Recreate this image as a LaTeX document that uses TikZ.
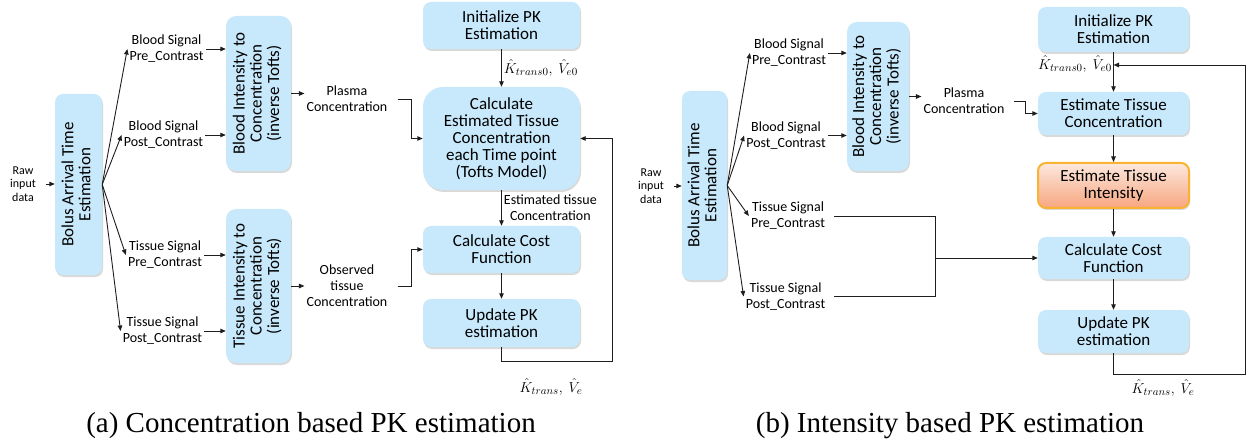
\documentclass[tikz,border=0pt]{standalone}
\usepackage{fontspec}
\setmainfont{Carlito}
\newfontfamily\capfont{Liberation Serif}
\usepackage{graphicx}
\usetikzlibrary{arrows.meta,shadows}

\definecolor{boxblue}{RGB}{200,233,251}
\definecolor{orgtop}{RGB}{253,232,222}
\definecolor{orgbot}{RGB}{247,166,128}
\definecolor{orgline}{RGB}{249,178,50}
\definecolor{lineclr}{RGB}{30,30,30}

\newcommand{\bxfont}{\fontsize{17}{17}\selectfont}
\newcommand{\lbfont}{\fontsize{14}{16}\selectfont}
\newcommand{\smfont}{\fontsize{12}{13.5}\selectfont}
\newcommand{\mtfont}{\fontsize{15.5}{17}\selectfont}
\newcommand{\vtext}[1]{\rotatebox{90}{\begin{tabular}{@{}c@{}}#1\end{tabular}}}

\tikzset{
  box/.style={fill=boxblue, rounded corners=8pt, align=center, font=\bxfont, inner sep=0pt,
    minimum width=157pt, minimum height=47pt,
    drop shadow={shadow xshift=1pt, shadow yshift=-2pt, opacity=0.25, fill=black!60}},
  hotbox/.style={box, top color=orgtop, bottom color=orgbot, draw=orgline, line width=2pt},
  lbl/.style={align=center, font=\lbfont, inner sep=2pt},
  mlbl/.style={font=\mtfont, inner sep=2pt},
  wire/.style={draw=lineclr, line width=0.9pt},
  arr/.style={wire, -{Triangle[length=5.5pt,width=4.5pt]}},
}

\begin{document}
\begin{tikzpicture}[x=1pt, y=-1pt]
        \useasboundingbox (0,0) rectangle (1249,446);

        % (a) Nodes
        \node[lbl, font=\smfont] (rawa) at (23,184) {Raw\\input\\data};
        \node[box, minimum width=47pt, minimum height=181pt] (bolusa) at (78.5,184.5) {\vtext{Bolus Arrival Time\\Estimation}};
        \node[lbl] (bprea) at (166.5,49) {Blood Signal\\Pre\_Contrast};
        \node[lbl] (bposta) at (163.5,135) {Blood Signal\\Post\_Contrast};
        \node[lbl] (tprea) at (165,255) {Tissue Signal\\Pre\_Contrast};
        \node[lbl] (tposta) at (162.5,331) {Tissue Signal\\Post\_Contrast};
        \node[box, rounded corners=10pt, minimum width=65pt, minimum height=155pt] (bloda) at (258.5,93.5) {\vtext{Blood Intensity to\\Concentration\\(inverse Tofts)}};
        \node[box, rounded corners=10pt, minimum width=65pt, minimum height=154pt] (tisa) at (258.5,286) {\vtext{Tissue Intensity to\\Concentration\\(inverse Tofts)}};
        \node[lbl] (plasa) at (347,99) {Plasma\\Concentration};
        \node[lbl] (obsa) at (347,286) {Observed\\tissue\\Concentration};
        \node[box] (inita) at (501.5,25.5) {Initialize PK\\Estimation};
        \node[box, rounded corners=20pt, minimum height=103pt] (calca) at (501.5,138.5) {Calculate\\Estimated Tissue\\Concentration\\each Time point\\(Tofts Model)};
        \node[box] (costa) at (501.5,249.5) {Calculate Cost\\Function};
        \node[box, minimum height=48pt] (upda) at (501.5,323) {Update PK\\estimation};
        \coordinate (loopa) at (612,361);
        \node[mlbl] (ra) at (551,387) {$\hat{K}_{trans},\ \hat{V}_{e}$};
        \node[font=\capfont\fontsize{29}{32}\selectfont] (capa) at (311,426) {(a) Concentration based PK estimation};

        % (a) Edges
        \draw[arr, shorten <=8pt] (rawa.east) -- (bolusa.west |- rawa.east);
        \foreach \n in {bprea,bposta,tprea,tposta}
            \draw[arr] (bolusa.east) -- (\n.west);
        \draw[arr] (bprea.east) -- (bprea.east -| bloda.west);
        \draw[arr] (bposta.east) -- (bposta.east -| bloda.west);
        \draw[arr] (tprea.east) -- (tprea.east -| tisa.west);
        \draw[arr] (tposta.east) -- (tposta.east -| tisa.west);
        \draw[arr] (bloda.east) -- (bloda.east -| plasa.west);
        \draw[arr] (tisa.east) -- (obsa.west);
        \draw[arr, shorten <=8pt] (plasa.east) -- ++(22,0) |- (calca.west);
        \draw[arr, shorten <=8pt] (obsa.east) -- ++(22,0) |- (costa.west);
        \draw[arr] (inita) -- node[right, mlbl] {$\hat{K}_{trans0},\ \hat{V}_{e0}$} (calca);
        \draw[arr] (calca) -- node[right, lbl] {Estimated tissue\\Concentration} (costa);
        \draw[arr] (costa) -- (upda);
        \draw[arr] (upda.south) |- (loopa) |- (calca.east);

        % (b) Nodes
        \node[lbl, font=\smfont] (rawb) at (651,186) {Raw\\input\\data};
        \node[box, minimum width=45pt, minimum height=189pt] (bolusb) at (704.5,185.5) {\vtext{Bolus Arrival Time\\Estimation}};
        \node[lbl] (bpreb) at (789,53) {Blood Signal\\Pre\_Contrast};
        \node[lbl] (bpostb) at (786,135.5) {Blood Signal\\Post\_Contrast};
        \node[lbl] (tpreb) at (788,216) {Tissue Signal\\Pre\_Contrast};
        \node[lbl] (tpostb) at (785.5,296.5) {Tissue Signal\\Post\_Contrast};
        \node[box, rounded corners=10pt, minimum width=62pt, minimum height=149pt] (blodb) at (878,96.5) {\vtext{Blood Intensity to\\Concentration\\(inverse Tofts)}};
        \node[lbl] (plasb) at (964,101) {Plasma\\Concentration};
        \node[box, minimum width=151pt, minimum height=45pt] (initb) at (1113.5,29.5) {Initialize PK\\Estimation};
        \node[box, minimum width=151pt, minimum height=43pt] (estcb) at (1113.5,113.5) {Estimate Tissue\\Concentration};
        \node[hotbox, minimum width=151pt, minimum height=45pt] (estib) at (1113.5,185.5) {Estimate Tissue\\Intensity};
        \node[box, minimum width=151pt, minimum height=42pt] (costb) at (1113.5,258) {Calculate Cost\\Function};
        \node[box, minimum width=151pt, minimum height=43pt] (updb) at (1113.5,331.5) {Update PK\\estimation};
        \coordinate (joinb) at (1113.5,65);
        \coordinate (loopb) at (1245,374);
        \coordinate (mergeb) at (935,258);
        \node[mlbl, anchor=east] (kb) at (1114,64) {$\hat{K}_{trans0},\ \hat{V}_{e0}$};
        \node[mlbl] (rb) at (1163,388) {$\hat{K}_{trans},\ \hat{V}_{e}$};
        \node[font=\capfont\fontsize{29}{32}\selectfont] (capb) at (950,426) {(b) Intensity based PK estimation};

        % (b) Edges
        \draw[arr, shorten <=8pt] (rawb.east) -- (bolusb.west |- rawb.east);
        \foreach \n in {bpreb,bpostb,tpreb,tpostb}
            \draw[arr] (bolusb.east) -- (\n.west);
        \draw[arr] (bpreb.east) -- (bpreb.east -| blodb.west);
        \draw[arr] (bpostb.east) -- (bpostb.east -| blodb.west);
        \draw[arr] (blodb.east) -- (blodb.east -| plasb.west);
        \draw[arr, shorten <=7pt] (plasb.east) -- ++(19,0) |- (estcb.west);
        \draw[wire, shorten <=7pt] (tpreb.east) -| (mergeb);
        \draw[wire, shorten <=7pt] (tpostb.east) -| (mergeb);
        \draw[arr] (mergeb) -- (costb.west);
        \draw[arr] (initb) -- (estcb);
        \draw[arr] (estcb) -- (estib);
        \draw[arr] (estib) -- (costb);
        \draw[arr] (costb) -- (updb);
        \draw[arr] (updb.south) |- (loopb) |- (joinb);
    \end{tikzpicture}
\end{document}
